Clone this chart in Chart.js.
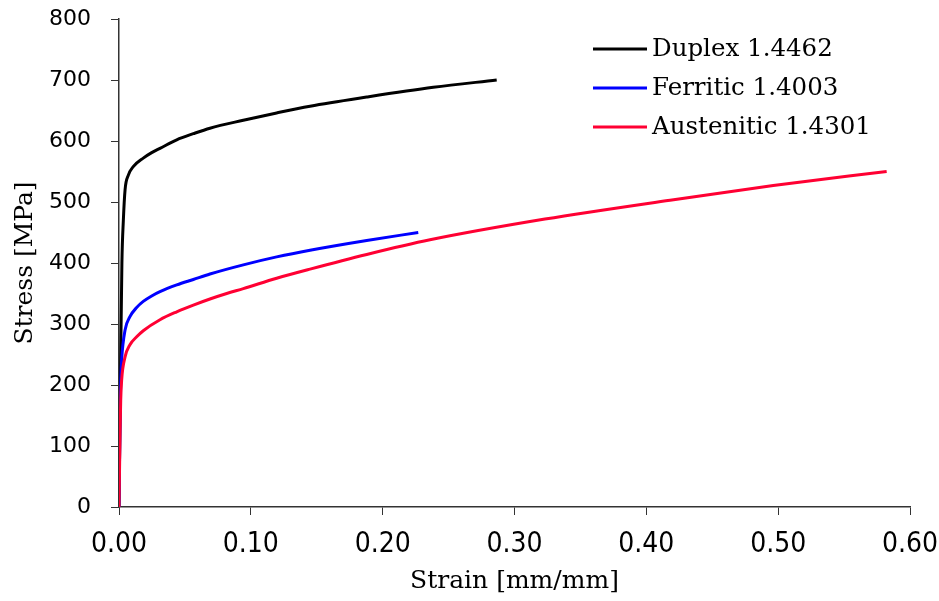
<!DOCTYPE html>
<html>
<head>
<meta charset="utf-8">
<script src="https://cdn.jsdelivr.net/npm/chart.js@4/dist/chart.umd.min.js"></script>
<style>
  html, body { margin: 0; padding: 0; background: #fff; }
  #wrap { width: 939px; height: 601px; position: relative; }
</style>
</head>
<body>
<div id="wrap"><canvas id="grafica"></canvas></div>
<script>
// curvas tension-deformacion
var duplexStrain = [0, 0.0012, 0.0022, 0.0033, 0.0046, 0.0071, 0.0108, 0.0184, 0.0248, 0.0311, 0.0438, 0.0564, 0.069, 0.0943, 0.1196, 0.1449, 0.1879, 0.2384, 0.2865]
var duplexStress = [0, 230, 400, 470, 520, 544, 558, 572, 581, 588, 602, 612, 621, 634, 646, 657, 672, 688, 700]

var ferriticStrain = [0, 0.0008, 0.0013, 0.002, 0.0046, 0.0083, 0.0134, 0.0184, 0.0248, 0.0311, 0.0438, 0.0564, 0.069, 0.0943, 0.1196, 0.1449, 0.1879, 0.227]
var ferriticStress = [0, 150, 205, 241, 290, 312, 327, 337, 346, 353, 364, 373, 382, 397, 410, 421, 437, 450]

var austeniticStrain = [0, 0.0008, 0.0013, 0.002, 0.0046, 0.0083, 0.0134, 0.0184, 0.0311, 0.0438, 0.0564, 0.069, 0.0817, 0.0943, 0.1196, 0.1449, 0.1879, 0.2359, 0.3231, 0.418, 0.4963, 0.5823]
var austeniticStress = [0, 120, 175, 208, 246, 266, 279, 289, 307, 320, 331, 341, 350, 358, 375, 390, 414, 438, 472, 503, 527, 550]

var series = ['Duplex 1.4462', 'Ferritic 1.4003', 'Austenitic 1.4301']
var colores = ['#000000', '#0000ff', '#ff0033']

var xTicks = [0, 0.1, 0.2, 0.3, 0.4, 0.5, 0.6]
var yTicks = [0, 100, 200, 300, 400, 500, 600, 700, 800]

function puntos(xs, ys) {
    return xs.map((x, i) => ({ x: x, y: ys[i] }))
}

var curvas = [
    puntos(duplexStrain, duplexStress),
    puntos(ferriticStrain, ferriticStress),
    puntos(austeniticStrain, austeniticStress)
]

// leyenda dentro del area del grafico, arriba a la derecha
var leyenda = {
    id: 'leyendaInterna',
    afterDraw(chart) {
        var ctx = chart.ctx
        ctx.save()
        ctx.font = '24.5px "DejaVu Serif", serif'
        ctx.textBaseline = 'middle'
        ctx.textAlign = 'left'
        chart.data.datasets.forEach((ds, i) => {
            var y = 49 + i * 39
            ctx.strokeStyle = ds.borderColor
            ctx.lineWidth = 3
            ctx.beginPath()
            ctx.moveTo(593, y)
            ctx.lineTo(647, y)
            ctx.stroke()
            ctx.fillStyle = '#000'
            ctx.fillText(ds.label, 652, y + 1)
        })
        ctx.restore()
    }
}

var fuenteTicksY = { family: '"DejaVu Sans", Verdana, sans-serif', size: 22 }
var fuenteTicksX = { family: '"Liberation Sans Narrow", "DejaVu Sans Condensed", sans-serif', size: 28 }
var fuenteTitulo = { family: '"DejaVu Serif", serif', size: 25 }

new Chart(document.getElementById('grafica'), {
    type: 'scatter',
    data: {
        datasets: series.map((nombre, i) => ({
            label: nombre,
            data: curvas[i],
            showLine: true,
            borderColor: colores[i],
            backgroundColor: colores[i],
            borderWidth: 3,
            pointRadius: 0,
            cubicInterpolationMode: 'monotone',
            order: 3 - i
        }))
    },
    options: {
        responsive: true,
        maintainAspectRatio: false,
        animation: false,
        layout: { padding: { top: 19, right: 29, left: 0, bottom: 0 } },
        plugins: {
            legend: { display: false },
            tooltip: { enabled: false }
        },
        scales: {
            x: {
                type: 'linear',
                min: 0,
                max: 0.6,
                afterBuildTicks: (scale) => { scale.ticks = xTicks.map(v => ({ value: v })) },
                afterFit: (scale) => {
                    scale.height = 94
                    scale.paddingLeft = 0
                    scale.paddingRight = 0
                },
                ticks: {
                    color: '#000',
                    font: fuenteTicksX,
                    padding: 13,
                    maxRotation: 0,
                    callback: (v) => Number(v).toFixed(2)
                },
                grid: { drawOnChartArea: false, drawTicks: true, tickLength: 8, color: '#333' },
                border: { color: '#333', width: 1.5 },
                title: { display: true, text: 'Strain [mm/mm]', color: '#000', font: fuenteTitulo, padding: { top: 0, bottom: 5 } }
            },
            y: {
                min: 0,
                max: 800,
                afterBuildTicks: (scale) => { scale.ticks = yTicks.map(v => ({ value: v })) },
                afterFit: (scale) => {
                    scale.width = 119
                    scale.paddingTop = 0
                    scale.paddingBottom = 0
                },
                ticks: {
                    color: '#000',
                    font: fuenteTicksY,
                    padding: 20
                },
                grid: { drawOnChartArea: false, drawTicks: true, tickLength: 8, color: '#333' },
                border: { color: '#333', width: 1.5 },
                title: { display: true, text: 'Stress [MPa]', color: '#000', font: fuenteTitulo, padding: { top: 10, bottom: 0 } }
            }
        }
    },
    plugins: [leyenda]
})
</script>
</body>
</html>
